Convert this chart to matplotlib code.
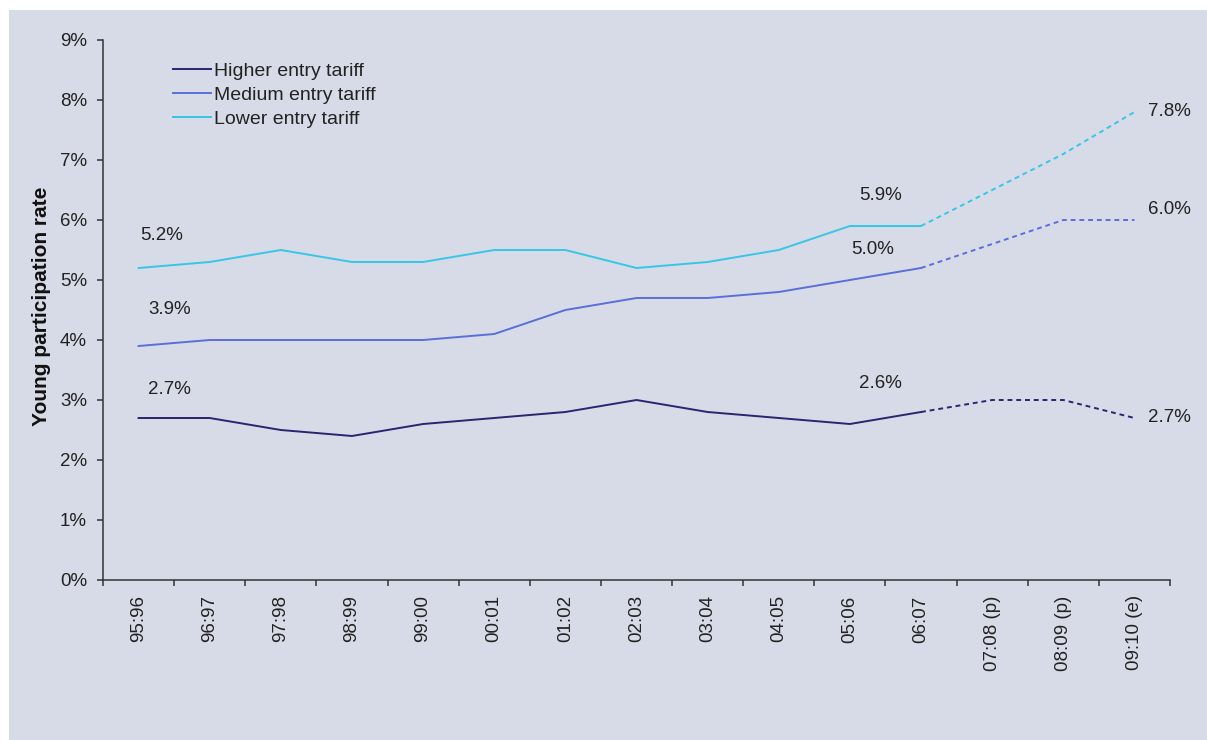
import matplotlib
matplotlib.use("Agg")
import matplotlib.pyplot as plt
from matplotlib.patches import Rectangle

# Academic years (last three are projections / estimate)
years = ["95:96", "96:97", "97:98", "98:99", "99:00", "00:01", "01:02", "02:03",
         "03:04", "04:05", "05:06", "06:07", "07:08 (p)", "08:09 (p)", "09:10 (e)"]

# Young participation rate (%) by entry tariff group
higher = [2.7, 2.7, 2.5, 2.4, 2.6, 2.7, 2.8, 3.0, 2.8, 2.7, 2.6, 2.8, 3.0, 3.0, 2.7]
medium = [3.9, 4.0, 4.0, 4.0, 4.0, 4.1, 4.5, 4.7, 4.7, 4.8, 5.0, 5.2, 5.6, 6.0, 6.0]
lower = [5.2, 5.3, 5.5, 5.3, 5.3, 5.5, 5.5, 5.2, 5.3, 5.5, 5.9, 5.9, 6.5, 7.1, 7.8]

series_names = ["Higher entry tariff", "Medium entry tariff", "Lower entry tariff"]
colors = ["#27266f", "#5a6fd9", "#38c6e6"]

# index where the actual data ends and projections begin
last_actual = 11

# labelled points: (series index, point index, pixel offset)
labelled = [
    (2, 0, (23, 33)), (1, 0, (31, 36)), (0, 0, (31, 29)),
    (2, 10, (31, 30)), (1, 10, (23, 30)), (0, 10, (31, 40)),
    (2, 14, (35, 1)), (1, 14, (35, 11)), (0, 14, (35, 0)),
]

plt.rcParams["font.family"] = ["Liberation Sans", "DejaVu Sans"]

W, H = 1207, 740
fig = plt.figure(figsize=(W / 100, H / 100), dpi=100, facecolor="white")
bg = "#d7dbe7"
fig.patches.append(Rectangle((9 / W, 0), 1 - 9 / W, 1 - 10 / H,
                             transform=fig.transFigure, facecolor=bg,
                             edgecolor="none", zorder=-10))

ax = fig.add_axes([103 / W, 1 - 580 / H, (1170 - 103) / W, (580 - 40) / H])
ax.set_facecolor("none")

x = list(range(len(years)))
all_series = [higher, medium, lower]
for vals, name, c in zip(all_series, series_names, colors):
    ax.plot(x[:last_actual + 1], vals[:last_actual + 1], color=c, lw=1.4,
            label=name)
    ax.plot(x[last_actual:], vals[last_actual:], color=c, lw=1.4,
            linestyle=(0, (2.5, 2.0)))

for si, pi, off in labelled:
    v = all_series[si][pi]
    ax.annotate(f"{v:.1f}%", xy=(pi, v), xytext=off, textcoords="offset pixels",
                ha="center", va="center", fontsize=13.5, color="#222222")

ax.set_xlim(-0.5, len(years) - 0.5)
ax.set_ylim(0, 9)
ax.set_yticks(range(0, 10))
ax.set_yticklabels([f"{v}%" for v in range(0, 10)])
ax.set_xticks(x)
ax.set_xticklabels(years, rotation=90)
ax.set_xticks([i - 0.5 for i in range(len(years) + 1)], minor=True)

ax.tick_params(axis="x", which="major", length=0, pad=11, labelsize=13.5,
               labelcolor="#222222")
ax.tick_params(axis="x", which="minor", length=4, width=1.1, color="#333333")
ax.tick_params(axis="y", length=4.5, width=1.1, color="#333333", pad=7,
               labelsize=13.5, labelcolor="#222222")

for s in ["top", "right"]:
    ax.spines[s].set_visible(False)
for s in ["left", "bottom"]:
    ax.spines[s].set_color("#333333")
    ax.spines[s].set_linewidth(1.1)

ax.set_ylabel("Young participation rate", fontsize=15, fontweight="bold",
              color="#111111")
ax.yaxis.set_label_coords(-0.049, 0.506)

leg = ax.legend(loc="upper left", bbox_to_anchor=(0.0656, 0.959), frameon=False,
                borderpad=0, borderaxespad=0, handlelength=1.95,
                handletextpad=0.15, labelspacing=0.33, fontsize=14)
for t in leg.get_texts():
    t.set_color("#222222")

fig.savefig("out.png", dpi=100, facecolor="white")
